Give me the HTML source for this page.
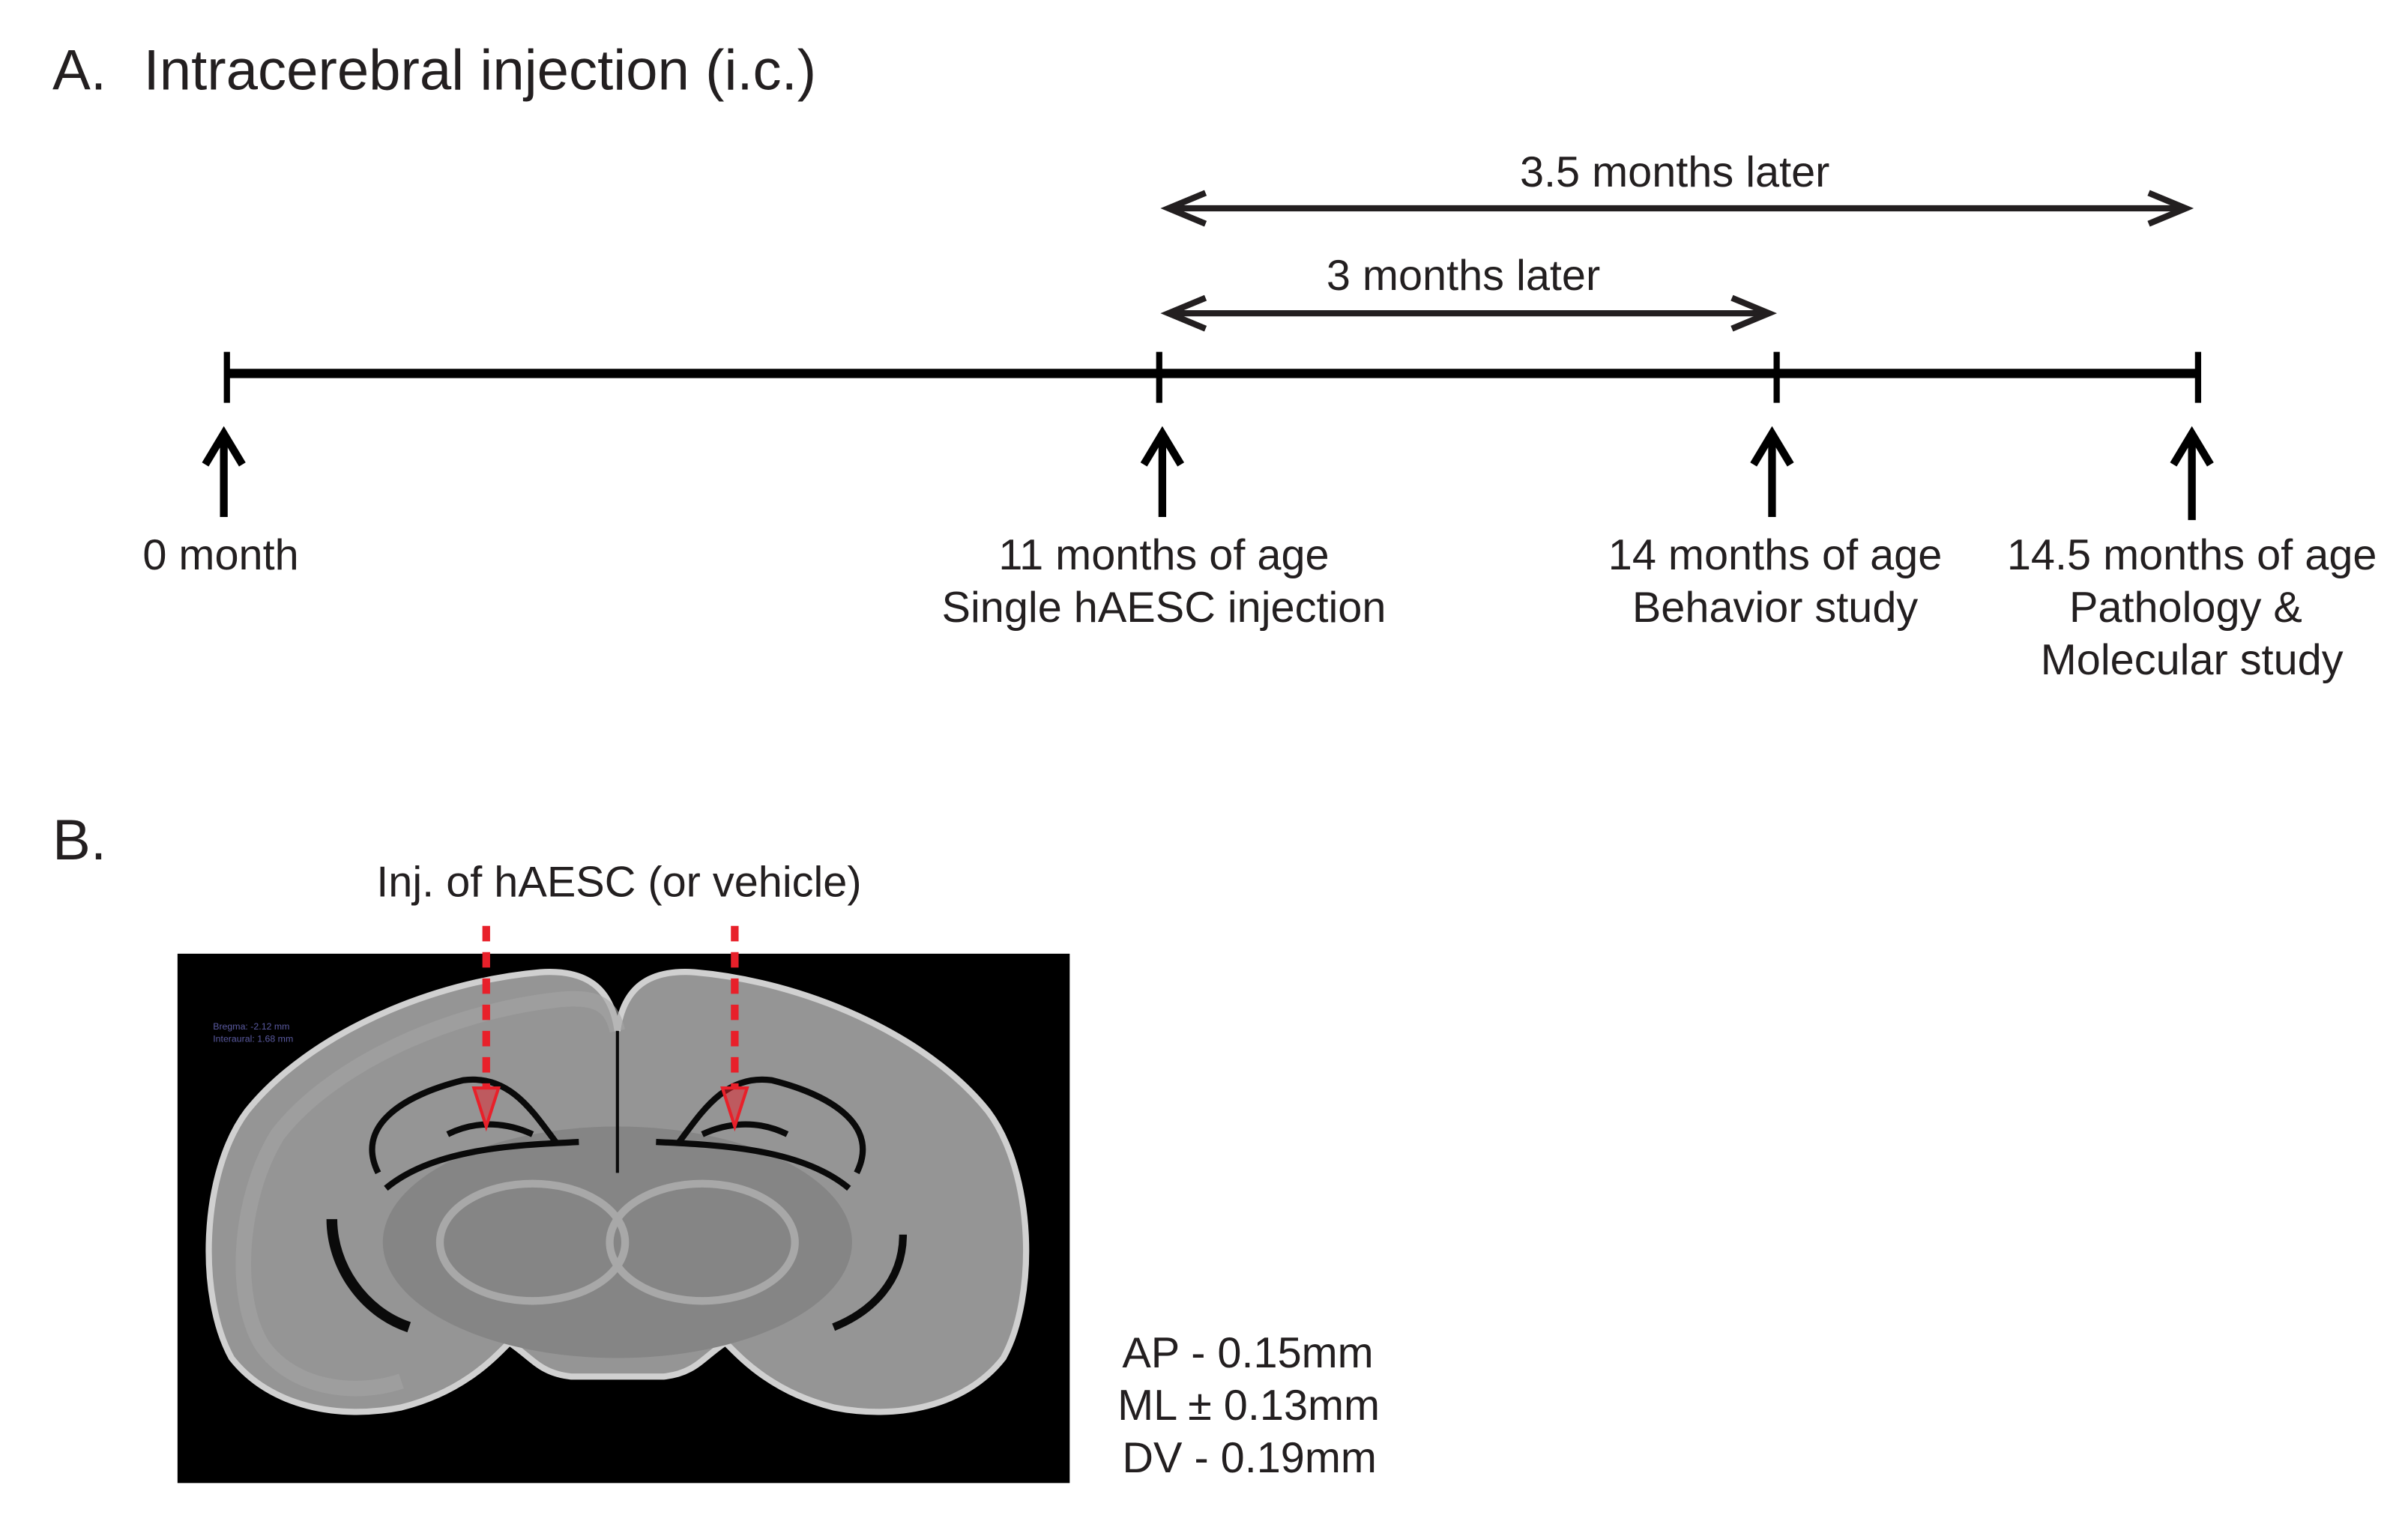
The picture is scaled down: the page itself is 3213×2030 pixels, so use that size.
<!DOCTYPE html>
<html><head><meta charset="utf-8"><style>
html,body{margin:0;padding:0;background:#fff;}
svg{display:block}
text{font-family:"Liberation Sans",sans-serif;fill:#231f20}
</style></head><body>
<svg width="3213" height="2030" viewBox="0 0 1560 985.6" preserveAspectRatio="none" xmlns="http://www.w3.org/2000/svg">
<text x="34" y="58" font-size="37">A.</text>
<text x="93" y="58" font-size="37">Intracerebral injection (i.c.)</text>

<g stroke="#231f20" stroke-width="4" fill="none" stroke-linecap="butt">
<line x1="757" y1="135" x2="1416" y2="135"/>
<polyline points="781,125 757,135 781,145"/>
<polyline points="1392,125 1416,135 1392,145"/>
<line x1="757" y1="203" x2="1146" y2="203"/>
<polyline points="781,193 757,203 781,213"/>
<polyline points="1122,193 1146,203 1122,213"/>
</g>
<text x="1085" y="121" font-size="28" text-anchor="middle">3.5 months later</text>
<text x="948" y="188" font-size="28" text-anchor="middle">3 months later</text>

<g stroke="#000" fill="none">
<line x1="146" y1="242" x2="1425" y2="242" stroke-width="6"/>
<line x1="147" y1="228" x2="147" y2="261" stroke-width="4"/>
<line x1="751" y1="228" x2="751" y2="261" stroke-width="4"/>
<line x1="1151" y1="228" x2="1151" y2="261" stroke-width="4"/>
<line x1="1424" y1="228" x2="1424" y2="261" stroke-width="4"/>
<g stroke-width="5">
<line x1="145" y1="282" x2="145" y2="335"/><polyline points="133,301 145,281 157,301"/>
<line x1="753" y1="282" x2="753" y2="335"/><polyline points="741,301 753,281 765,301"/>
<line x1="1148" y1="282" x2="1148" y2="335"/><polyline points="1136,301 1148,281 1160,301"/>
<line x1="1420" y1="282" x2="1420" y2="337"/><polyline points="1408,301 1420,281 1432,301"/>
</g>
</g>
<g font-size="28" text-anchor="middle">
<text x="143" y="369">0 month</text>
<text x="754" y="369">11 months of age</text>
<text x="754" y="403">Single hAESC injection</text>
<text x="1150" y="369">14 months of age</text>
<text x="1150" y="403">Behavior study</text>
<text x="1420" y="369">14.5 months of age</text>
<text x="1416" y="403">Pathology &amp;</text>
<text x="1420" y="437">Molecular study</text>
</g>

<text x="34" y="557" font-size="37">B.</text>
<text x="401" y="581" font-size="28" text-anchor="middle">Inj. of hAESC (or vehicle)</text>

<rect x="115" y="618" width="578" height="343" fill="#000"/>
<text x="138" y="667" font-size="6" style="fill:#5a5aa0">Bregma: -2.12 mm</text>
<text x="138" y="675" font-size="6" style="fill:#5a5aa0">Interaural: 1.68 mm</text>
<path d="M400,668 C396,640 380,628 350,630 C280,636 200,670 160,720 C130,760 128,840 150,880 C175,912 220,920 260,912 C300,902 320,880 330,870 C345,880 350,890 370,892 L430,892 C450,890 455,880 470,870 C480,880 500,902 540,912 C580,920 625,912 650,880 C672,840 670,760 640,720 C600,670 520,636 450,630 C420,628 404,640 400,668 Z" fill="#959595" stroke="#d0d0d0" stroke-width="4"/>
<path d="M400,668 C396,650 385,645 360,648 C290,656 215,690 180,735 C155,775 150,840 170,872 C190,900 230,905 260,895" fill="none" stroke="#a5a5a5" stroke-width="10" opacity="0.6"/>
<ellipse cx="400" cy="805" rx="152" ry="75" fill="#858585"/>
<ellipse cx="345" cy="805" rx="60" ry="38" fill="none" stroke="#a8a8a8" stroke-width="5"/>
<ellipse cx="455" cy="805" rx="60" ry="38" fill="none" stroke="#a8a8a8" stroke-width="5"/>
<g fill="none" stroke="#0a0a0a" stroke-width="4">
<path d="M245,760 C230,730 260,710 300,700 C330,696 345,720 360,740"/>
<path d="M555,760 C570,730 540,710 500,700 C470,696 455,720 440,740"/>
<path d="M250,770 C280,745 330,742 375,740"/>
<path d="M550,770 C520,745 470,742 425,740"/>
<path d="M290,735 C310,725 330,728 345,735"/>
<path d="M510,735 C490,725 470,728 455,735"/>
<path d="M215,790 C215,820 235,850 265,860" stroke-width="7"/>
<path d="M585,800 C585,830 565,850 540,860" stroke-width="5"/>
<line x1="400" y1="668" x2="400" y2="760" stroke-width="2"/>
</g>
<g stroke="#e8202a" fill="none">
<line x1="315" y1="600" x2="315" y2="705" stroke-width="5" stroke-dasharray="10,7"/>
<line x1="476" y1="600" x2="476" y2="705" stroke-width="5" stroke-dasharray="10,7"/>
<polygon points="307,705 323,705 315,730" stroke-width="2" fill="#e8202a" fill-opacity="0.5"/>
<polygon points="468,705 484,705 476,730" stroke-width="2" fill="#e8202a" fill-opacity="0.5"/>
</g>

<g font-size="28">
<text x="727" y="886">AP - 0.15mm</text>
<text x="724" y="920">ML ± 0.13mm</text>
<text x="727" y="954">DV - 0.19mm</text>
</g>
</svg>
</body></html>
